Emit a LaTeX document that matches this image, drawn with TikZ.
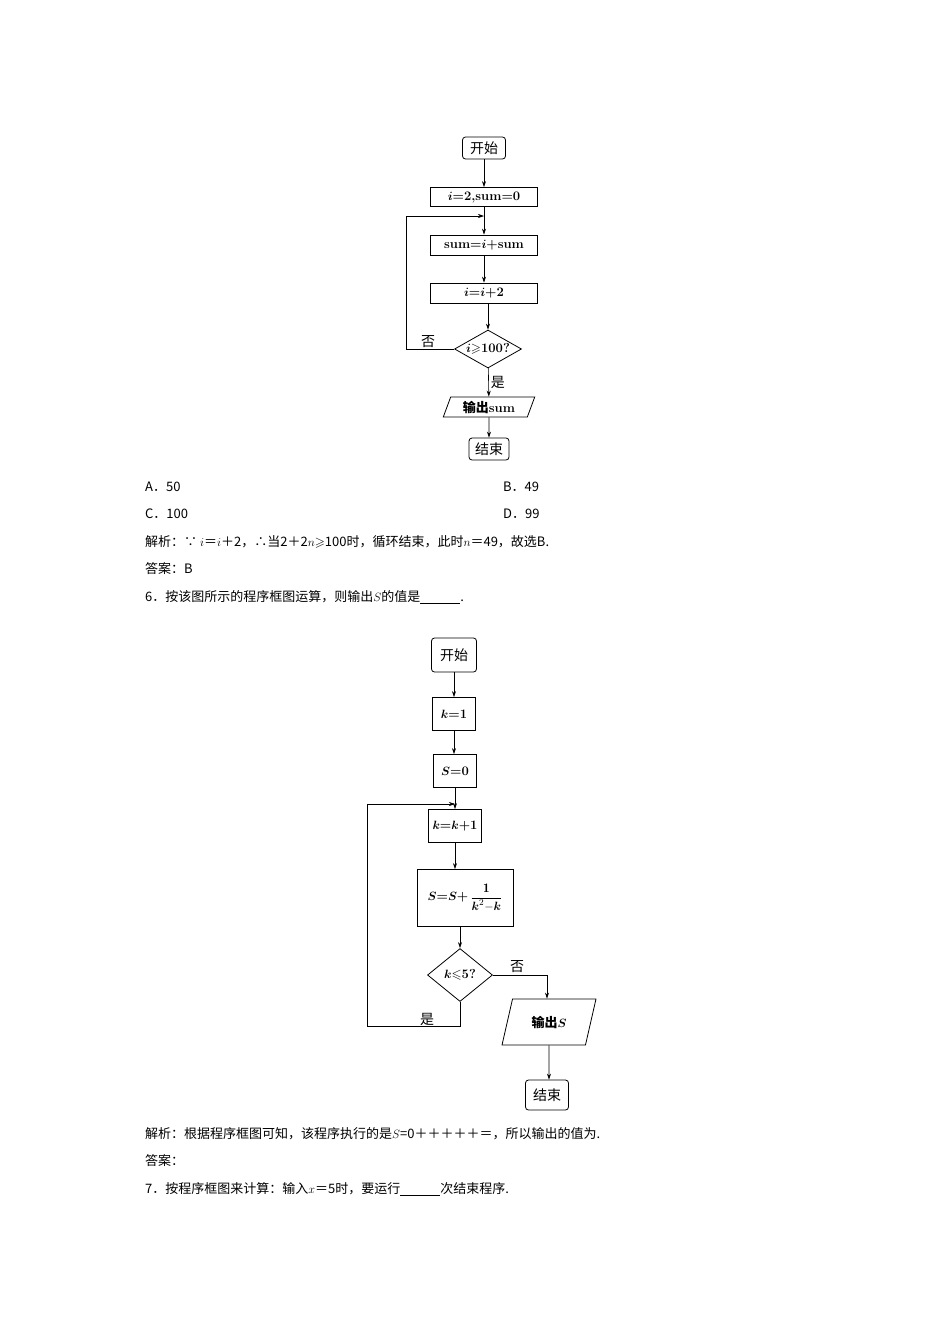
\documentclass[tikz,border=0pt]{standalone}
\usepackage{amsmath,amssymb}
\usepackage{fontspec}
\newfontfamily\cjk{Noto Sans CJK SC}
\usetikzlibrary{shapes.geometric,arrows.meta}
\begin{document}
\begin{tikzpicture}[x=1pt,y=-1pt,
  every node/.style={inner sep=0pt,font=\fontsize{13}{15}\selectfont},
  term/.style={draw,rounded corners=3pt,thick,font=\fontsize{14}{16}\selectfont\cjk},
  procbox/.style={draw,thick,font=\fontsize{13}{15}\selectfont\bfseries},
  dec/.style={draw,thick,diamond,aspect=1.8,font=\fontsize{13}{15}\selectfont\bfseries},
  io/.style={draw,thick,trapezium,trapezium stretches=true,trapezium left angle=68,trapezium right angle=112,font=\fontsize{13}{15}\selectfont\bfseries},
  arr/.style={-{Stealth[length=6pt,width=4pt]},semithick},
  ln/.style={semithick},
  txt/.style={anchor=west,font=\fontsize{13}{15}\selectfont\cjk}]
\useasboundingbox (0,0) rectangle (950,1344);
% ---- flowchart 1
\node[term,minimum width=43,minimum height=22] (s1) at (484,148) {开始};
\node[procbox,minimum width=107,minimum height=19] (b1) at (484,197) {$\boldsymbol{i}$=2,sum=0};
\node[procbox,minimum width=107,minimum height=20] (b2) at (484,245) {sum=$\boldsymbol{i}$+sum};
\node[procbox,minimum width=107,minimum height=20] (b3) at (484,293) {$\boldsymbol{i}$=$\boldsymbol{i}$+2};
\node[dec,minimum width=67,minimum height=38] (d1) at (488,349) {$\boldsymbol{i}{\geqslant}$100?};
\node[io,minimum width=92,minimum height=20] (o1) at (489,407) {{\cjk 输出}sum};
\node[term,minimum width=40,minimum height=22] (e1) at (489,449) {结束};
\coordinate (j1) at (484,216);
\draw[arr] (s1) -- (b1);
\draw[arr] (b1) -- (b2);
\draw[arr] (b2) -- (b3);
\draw[arr] (b3.south) -- (b3.south -| d1.north) -- (d1.north);
\draw[arr] (d1) -- (o1) node[pos=0.5,right=2pt,font=\fontsize{14}{16}\selectfont\cjk] {是};
\draw[arr] (o1) -- (e1);
\draw[arr] (d1.west) -- (406,349) |- (j1);
\node[font=\fontsize{14}{16}\selectfont\cjk] (no1) at (428,342) {否};
% ---- text
\node[txt] (ta) at (145,487) {A．50};
\node[txt] (tb) at (503,487) {B．49};
\node[txt] (tc) at (145,514) {C．100};
\node[txt] (td) at (503,514) {D．99};
\node[txt] (t1) at (145,542) {解析：∵ $i$＝$i$＋2，∴当2＋2$n{\geqslant}$100时，循环结束，此时$n$＝49，故选B.};
\node[txt] (t2) at (145,569) {答案：B};
\node[txt] (t3) at (145,597) {6．按该图所示的程序框图运算，则输出$S$的值是\underline{\hspace{40pt}}.};
% ---- flowchart 2
\node[term,minimum width=45,minimum height=34] (s2) at (454,655) {开始};
\node[procbox,minimum width=43,minimum height=33] (c1) at (454,714) {$\boldsymbol{k}$=1};
\node[procbox,minimum width=43,minimum height=33] (c2) at (455,771) {$\boldsymbol{S}$=0};
\node[procbox,minimum width=53,minimum height=33] (c3) at (455,826) {$\boldsymbol{k}$=$\boldsymbol{k}$+1};
\node[procbox,minimum width=96,minimum height=57] (c4) at (465,898) {$\boldsymbol{S}$=$\boldsymbol{S}$+\,$\dfrac{\mathbf 1}{\boldsymbol{k}^{2}\mathbf{-}\boldsymbol{k}}$};
\node[dec,minimum width=65,minimum height=53] (d2) at (460,975) {$\boldsymbol{k}{\leqslant}$5?};
\node[io,minimum width=94,minimum height=46] (o2) at (549,1022) {{\cjk 输出}$\boldsymbol{S}$};
\node[term,minimum width=43,minimum height=30] (e2) at (547,1095) {结束};
\coordinate (j2) at (455,804);
\draw[arr] (s2) -- (s2 |- c1.north);
\draw[arr] (c1) -- (c1 |- c2.north);
\draw[ln] (c2.south) -- (c2.south |- j2);
\draw[arr] (j2) -- (c3.north);
\draw[arr] (c3.south) -- (c3.south |- c4.north);
\draw[arr] (c4.south -| d2.north) -- (d2.north);
\draw[arr] (d2.east) -- (547,975) -- (o2.north -| 547,0);
\node[font=\fontsize{14}{16}\selectfont\cjk] (no2) at (517,967) {否};
\draw[arr] (d2.south) -- (460,1026) -- (367,1026) |- (j2);
\node[font=\fontsize{14}{16}\selectfont\cjk] (yes2) at (427,1019) {是};
\draw[arr] (o2) -- (e2.north -| o2);
% ---- text
\node[txt] (t4) at (145,1134) {解析：根据程序框图可知，该程序执行的是$S$=0＋＋＋＋＋＝，所以输出的值为.};
\node[txt] (t5) at (145,1161) {答案：};
\node[txt] (t6) at (145,1189) {7．按程序框图来计算：输入$x$＝5时，要运行\underline{\hspace{40pt}}次结束程序.};
\end{tikzpicture}
\end{document}
